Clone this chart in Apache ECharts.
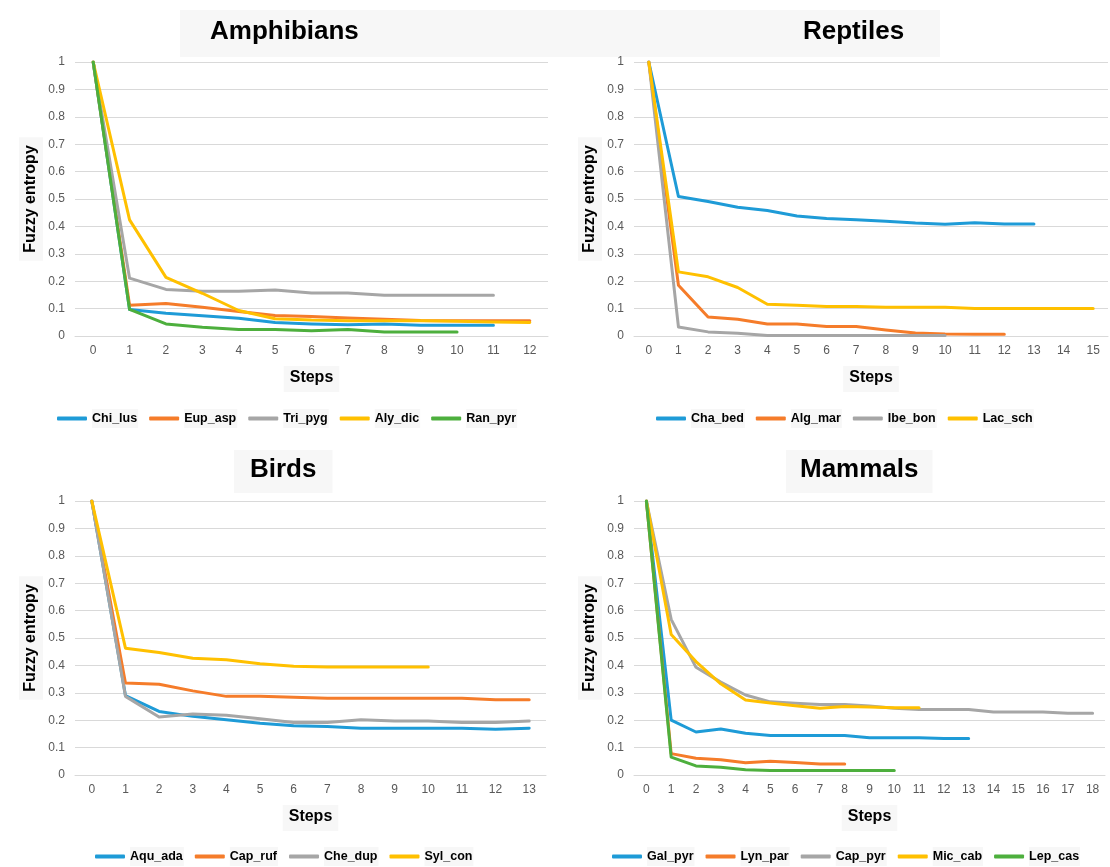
<!DOCTYPE html>
<html>
<head>
<meta charset="utf-8">
<script src="https://cdn.jsdelivr.net/npm/echarts@6/dist/echarts.min.js"></script>
<style>
html,body{margin:0;padding:0;background:#fff;}
#chart{width:1110px;height:867px;}
</style>
</head>
<body>
<div id="chart"></div>
<script>
// ---- tick labels ----
const amphSteps = ['0','1','2','3','4','5','6','7','8','9','10','11','12'];
const reptSteps = ['0','1','2','3','4','5','6','7','8','9','10','11','12','13','14','15'];
const birdSteps = ['0','1','2','3','4','5','6','7','8','9','10','11','12','13'];
const mammSteps = ['0','1','2','3','4','5','6','7','8','9','10','11','12','13','14','15','16','17','18'];

// ---- Amphibians ----
const amphNames = ['Chi_lus','Eup_asp','Tri_pyg','Aly_dic','Ran_pyr'];
const Chi_lus = [1,0.097,0.083,0.074,0.065,0.049,0.044,0.041,0.044,0.039,0.039,0.039];
const Eup_asp = [1,0.112,0.119,0.105,0.089,0.075,0.071,0.066,0.061,0.057,0.056,0.056,0.056];
const Tri_pyg = [1,0.211,0.170,0.163,0.163,0.168,0.157,0.157,0.149,0.149,0.149,0.149];
const Aly_dic = [1,0.424,0.214,0.156,0.093,0.063,0.058,0.056,0.056,0.056,0.054,0.051,0.049];
const Ran_pyr = [1,0.097,0.044,0.032,0.024,0.024,0.019,0.024,0.015,0.015,0.015];

// ---- Reptiles ----
const reptNames = ['Cha_bed','Alg_mar','Ibe_bon','Lac_sch'];
const Cha_bed = [1,0.509,0.491,0.470,0.458,0.438,0.429,0.424,0.419,0.412,0.408,0.413,0.409,0.409];
const Alg_mar = [1,0.185,0.069,0.061,0.044,0.044,0.035,0.035,0.022,0.011,0.007,0.006,0.006];
const Ibe_bon = [1,0.033,0.015,0.010,0.002,0.002,0.002,0.002,0.002,0.002,0.002];
const Lac_sch = [1,0.234,0.216,0.177,0.116,0.112,0.108,0.108,0.105,0.105,0.105,0.100,0.100,0.100,0.100,0.100];

// ---- Birds ----
const birdNames = ['Aqu_ada','Cap_ruf','Che_dup','Syl_con'];
const Aqu_ada = [1,0.290,0.232,0.214,0.202,0.189,0.180,0.177,0.171,0.171,0.171,0.171,0.167,0.171];
const Cap_ruf = [1,0.336,0.331,0.307,0.287,0.287,0.284,0.280,0.280,0.280,0.280,0.280,0.275,0.275];
const Che_dup = [1,0.287,0.212,0.223,0.218,0.205,0.192,0.192,0.202,0.197,0.197,0.192,0.192,0.197];
const Syl_con = [1,0.463,0.447,0.426,0.421,0.406,0.397,0.394,0.394,0.394,0.394];

// ---- Mammals ----
const mammNames = ['Gal_pyr','Lyn_par','Cap_pyr','Mic_cab','Lep_cas'];
const Gal_pyr = [1,0.200,0.157,0.168,0.152,0.144,0.144,0.144,0.144,0.136,0.136,0.136,0.133,0.133];
const Lyn_par = [1,0.078,0.061,0.056,0.045,0.050,0.046,0.040,0.040];
const Cap_pyr = [1,0.568,0.393,0.339,0.292,0.267,0.262,0.257,0.257,0.252,0.244,0.239,0.239,0.239,0.230,0.230,0.230,0.225,0.225];
const Mic_cab = [1,0.513,0.414,0.333,0.274,0.263,0.253,0.244,0.250,0.248,0.245,0.245];
const Lep_cas = [1,0.065,0.033,0.028,0.019,0.016,0.016,0.016,0.016,0.016,0.016];

const panelTitles = ['Amphibians','Reptiles','Birds','Mammals'];
const yName = 'Fuzzy entropy';
const xName = 'Steps';

const colors = ['#1E9BD7','#F57C2A','#A6A6A6','#FFC000','#4DAF3D'];

const panels = [
  {steps: amphSteps, names: amphNames, data: [Chi_lus,Eup_asp,Tri_pyg,Aly_dic,Ran_pyr],
   grid:{left:75, top:62, width:473, height:274}, legendLeft:52, legendTop:404},
  {steps: reptSteps, names: reptNames, data: [Cha_bed,Alg_mar,Ibe_bon,Lac_sch],
   grid:{left:634, top:62, width:474, height:274}, legendLeft:651, legendTop:404},
  {steps: birdSteps, names: birdNames, data: [Aqu_ada,Cap_ruf,Che_dup,Syl_con],
   grid:{left:75, top:501, width:471, height:274}, legendLeft:90, legendTop:842},
  {steps: mammSteps, names: mammNames, data: [Gal_pyr,Lyn_par,Cap_pyr,Mic_cab,Lep_cas],
   grid:{left:634, top:501, width:471, height:274}, legendLeft:607, legendTop:842}
];

const grids = [], xAxes = [], yAxes = [], series = [], legends = [];
const nameBg = '#f7f7f7';
panels.forEach((p, i) => {
  grids.push(Object.assign({containLabel:false}, p.grid));
  xAxes.push({
    type:'category', gridIndex:i, data:p.steps, boundaryGap:true,
    axisLine:{show:true, lineStyle:{color:'#d9d9d9', width:1}},
    axisTick:{show:false},
    axisLabel:{color:'#595959', fontSize:12, fontFamily:'Liberation Sans', margin:9, interval:0},
    name:xName, nameLocation:'middle', nameGap:30,
    nameTextStyle:{fontFamily:'Liberation Sans', fontWeight:'bold', fontSize:16, color:'#000',
      backgroundColor:nameBg, padding:[4,6,6,6]},
    splitLine:{show:false}
  });
  yAxes.push({
    type:'value', gridIndex:i, min:0, max:1, interval:0.1,
    axisLine:{show:false}, axisTick:{show:false},
    axisLabel:{color:'#595959', fontSize:12, fontFamily:'Liberation Sans', margin:10},
    splitLine:{lineStyle:{color:'#d9d9d9', width:1}},
    name:yName, nameLocation:'middle', nameGap:32, nameRotate:90,
    nameTextStyle:{fontFamily:'Liberation Sans', fontWeight:'bold', fontSize:16, color:'#000',
      backgroundColor:nameBg, padding:[4,8,4,8]}
  });
  p.names.forEach((n, k) => {
    series.push({
      name:n, type:'line', xAxisIndex:i, yAxisIndex:i, data:p.data[k],
      symbol:'none', showSymbol:false,
      lineStyle:{color:colors[k], width:3, cap:'round', join:'round'},
      itemStyle:{color:colors[k]}, z:2+k
    });
  });
  legends.push({
    data:p.names, top:p.legendTop, left:p.legendLeft, width:560, orient:'horizontal',
    icon:'roundRect', itemWidth:30, itemHeight:4, itemGap:11,
    textStyle:{fontFamily:'Liberation Sans', fontWeight:'bold', fontSize:12.5, color:'#000',
      backgroundColor:nameBg, padding:[3,1,3,0]},
    selectedMode:false
  });
});

const chart = echarts.init(document.getElementById('chart'), null, {renderer:'canvas'});
chart.setOption({
  animation:false,
  backgroundColor:'#ffffff',
  graphic:[
    {type:'rect', left:180, top:10, shape:{width:760, height:47}, style:{fill:nameBg}, z:-1}
  ],
  title:[
    {text:panelTitles[0], left:210, top:19, padding:0,
     textStyle:{fontFamily:'Liberation Sans', fontWeight:'bold', fontSize:26, color:'#000'}},
    {text:panelTitles[1], left:803, top:19, padding:0,
     textStyle:{fontFamily:'Liberation Sans', fontWeight:'bold', fontSize:26, color:'#000'}},
    {text:panelTitles[2], left:234, top:450, padding:[7,16,10,16], backgroundColor:nameBg,
     textStyle:{fontFamily:'Liberation Sans', fontWeight:'bold', fontSize:26, color:'#000'}},
    {text:panelTitles[3], left:786, top:450, padding:[7,14,10,14], backgroundColor:nameBg,
     textStyle:{fontFamily:'Liberation Sans', fontWeight:'bold', fontSize:26, color:'#000'}}
  ],
  grid:grids, xAxis:xAxes, yAxis:yAxes, series:series, legend:legends
});
</script>
</body>
</html>
